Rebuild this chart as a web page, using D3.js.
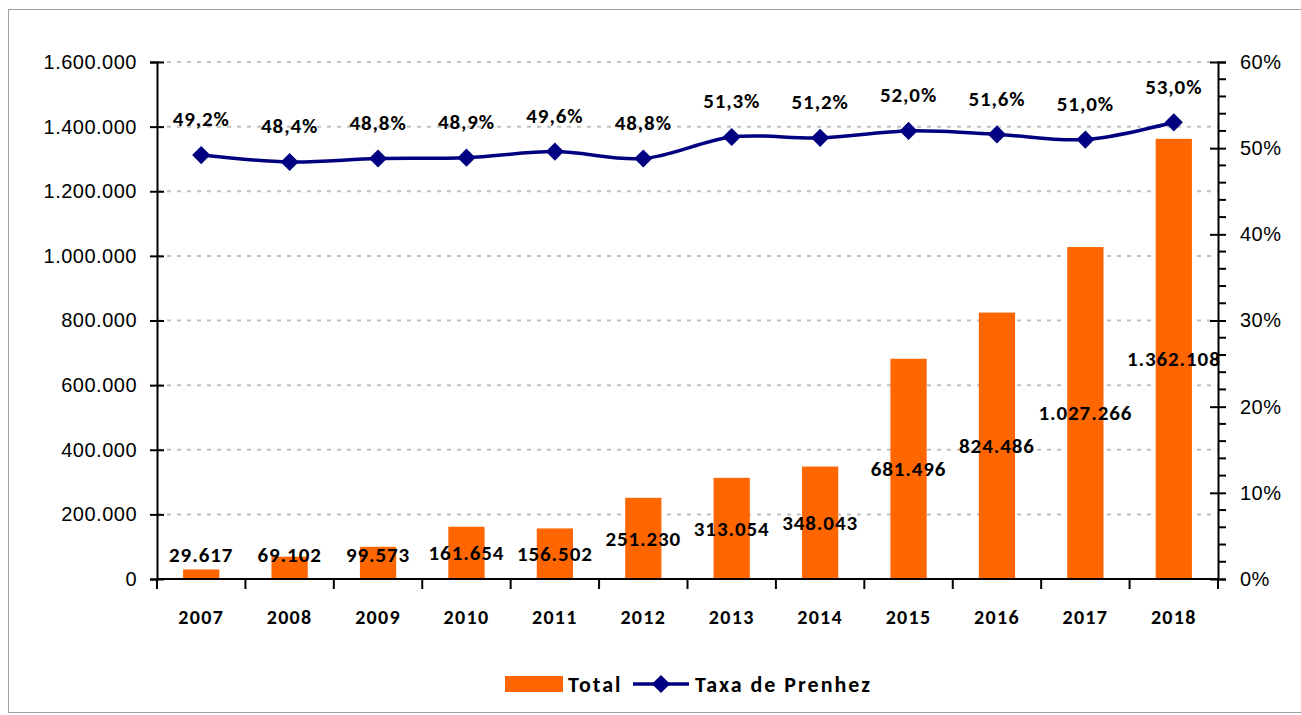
<!DOCTYPE html>
<html>
<head>
<meta charset="utf-8">
<script src="https://cdn.jsdelivr.net/npm/d3@7"></script>
<style>
  body { margin: 0; background: #fff; }
  svg { font-family: Carlito, Lato, "Open Sans", sans-serif; }
  .axis path, .axis line { stroke: #000; stroke-width: 2; }
  .axis text { font-size: 20px; fill: #000; letter-spacing: 0.5px; }
  .lbl { font-weight: bold; letter-spacing: 0.9px; }
</style>
</head>
<body>
<svg id="chart"></svg>
<script>
// data
const years = ['2007', '2008', '2009', '2010', '2011', '2012', '2013', '2014', '2015', '2016', '2017', '2018'];
const totals = [29617, 69102, 99573, 161654, 156502, 251230, 313054, 348043, 681496, 824486, 1027266, 1362108];
const taxa = [49.2, 48.4, 48.8, 48.9, 49.6, 48.8, 51.3, 51.2, 52.0, 51.6, 51.0, 53.0];
const leftTicks = [0, 200000, 400000, 600000, 800000, 1000000, 1200000, 1400000, 1600000];
const rightTicks = [0, 10, 20, 30, 40, 50, 60];
const seriesNames = ['Total', 'Taxa de Prenhez'];

const W = 1301, H = 715;
const margin = {top: 62, right: 83, bottom: 136, left: 157};
const width = W - margin.left - margin.right;
const height = H - margin.top - margin.bottom;

const fmtNum = d3.formatLocale({decimal: ',', thousands: '.', grouping: [3], currency: ['', '']}).format(',');
const fmtPct = d => d.toFixed(1).replace('.', ',') + '%';

const svg = d3.select('#chart').attr('width', W).attr('height', H);

// outer frame
svg.append('rect')
    .attr('x', 8.5).attr('y', 9.5)
    .attr('width', W).attr('height', H - 12)
    .attr('fill', 'none').attr('stroke', '#a0a0a0').attr('stroke-width', 1);

const chart = svg.append('g').attr('transform', `translate(${margin.left},${margin.top})`);

const xScale = d3.scaleBand().domain(years).range([0, width]).paddingInner(0.59).paddingOuter(0.295);
const xBound = d3.scaleBand().domain(years).range([0, width]);
const yScale = d3.scaleLinear().domain([0, 1600000]).range([height, 0]);
const y2Scale = d3.scaleLinear().domain([0, 60]).range([height, 0]);

// grid lines
chart.append('g').selectAll('line')
    .data(leftTicks.filter(d => d > 0))
  .join('line')
    .attr('x1', 0).attr('x2', width)
    .attr('y1', d => yScale(d)).attr('y2', d => yScale(d))
    .attr('stroke', '#c0c0c0').attr('stroke-width', 2)
    .attr('stroke-dasharray', '4,6');

// bars
chart.selectAll('.bar')
    .data(totals)
  .join('rect')
    .attr('class', 'bar')
    .attr('x', (d, i) => xScale(years[i]))
    .attr('width', xScale.bandwidth())
    .attr('y', d => yScale(d))
    .attr('height', d => height - yScale(d))
    .attr('fill', '#ff6600');

// left axis
const yAxis = d3.axisLeft(yScale).tickValues(leftTicks).tickFormat(fmtNum).tickSizeOuter(0).tickSize(7).tickPadding(13);
const yAxisG = chart.append('g').attr('class', 'axis y-axis').call(yAxis);
yAxisG.selectAll('.tick line').attr('x1', 7);

// right axis with minor ticks
const y2AxisG = chart.append('g').attr('class', 'axis y2-axis')
    .attr('transform', `translate(${width},0)`)
    .call(d3.axisRight(y2Scale).tickValues(rightTicks).tickFormat(d => d + '%').tickSizeOuter(0).tickSize(8).tickPadding(14));
y2AxisG.selectAll('.tick line').attr('x1', -8).attr('stroke-width', 3);
y2AxisG.select('.domain').attr('stroke-width', 3);
y2AxisG.selectAll('.minor')
    .data(d3.range(0, 61, 2).filter(d => d % 10 !== 0))
  .join('line')
    .attr('class', 'minor')
    .attr('x1', 0).attr('x2', 8)
    .attr('y1', d => y2Scale(d)).attr('y2', d => y2Scale(d))
    .attr('stroke', '#000').attr('stroke-width', 2.5);

// x axis: ticks at category boundaries
const xAxisG = chart.append('g').attr('class', 'axis x-axis').attr('transform', `translate(0,${height})`);
xAxisG.append('line').attr('x1', 0).attr('x2', width).attr('stroke', '#000').attr('stroke-width', 2);
xAxisG.selectAll('.xtick')
    .data(years.concat(['end']))
  .join('line')
    .attr('class', 'xtick')
    .attr('x1', (d, i) => i * xBound.step()).attr('x2', (d, i) => i * xBound.step())
    .attr('y1', 0).attr('y2', 10)
    .attr('stroke', '#000').attr('stroke-width', 2);
xAxisG.selectAll('.xlabel')
    .data(years)
  .join('text')
    .attr('class', 'xlabel lbl')
    .attr('x', d => xBound(d) + xBound.bandwidth() / 2)
    .attr('y', 45)
    .attr('text-anchor', 'middle')
    .attr('font-size', 22)
    .style('letter-spacing', '1.3px')
    .text(d => d);

// bar labels
chart.selectAll('.bar-label')
    .data(totals)
  .join('text')
    .attr('class', 'bar-label lbl')
    .attr('x', (d, i) => xBound(years[i]) + xBound.bandwidth() / 2)
    .attr('y', d => Math.min((yScale(d) + height) / 2, height - 24))
    .attr('dy', '0.35em')
    .attr('text-anchor', 'middle')
    .attr('font-size', 21)
    .text(d => fmtNum(d));

// rate line
const cx = (d, i) => xBound(years[i]) + xBound.bandwidth() / 2;
const line = d3.line()
    .x(cx)
    .y(d => y2Scale(d))
    .curve(d3.curveCatmullRom.alpha(0.5));
chart.append('path')
    .datum(taxa)
    .attr('d', line)
    .attr('fill', 'none')
    .attr('stroke', '#000080')
    .attr('stroke-width', 3.5);

const diamond = d3.symbol().type(d3.symbolDiamond2).size(210);
chart.selectAll('.marker')
    .data(taxa)
  .join('path')
    .attr('class', 'marker')
    .attr('d', diamond)
    .attr('transform', (d, i) => `translate(${cx(d, i)},${y2Scale(d)})`)
    .attr('fill', '#000080');

chart.selectAll('.rate-label')
    .data(taxa)
  .join('text')
    .attr('class', 'rate-label lbl')
    .attr('x', cx)
    .attr('y', d => y2Scale(d) - 36)
    .attr('dy', '0.35em')
    .attr('text-anchor', 'middle')
    .attr('font-size', 21)
    .text(d => fmtPct(d));

// legend
const legend = svg.append('g').attr('transform', 'translate(505,684)');
legend.append('rect').attr('x', 0).attr('y', -8).attr('width', 58).attr('height', 16).attr('fill', '#ff6600');
legend.append('text').attr('class', 'lbl').attr('x', 63).attr('dy', '0.35em').attr('font-size', 22).style('letter-spacing', '2px').text(seriesNames[0]);
legend.append('line').attr('x1', 128).attr('x2', 184).attr('stroke', '#000080').attr('stroke-width', 3.5);
legend.append('path').attr('d', diamond).attr('transform', 'translate(156,0)').attr('fill', '#000080');
legend.append('text').attr('class', 'lbl').attr('x', 190).attr('dy', '0.35em').attr('font-size', 22).style('letter-spacing', '2px').text(seriesNames[1]);
</script>
</body>
</html>
